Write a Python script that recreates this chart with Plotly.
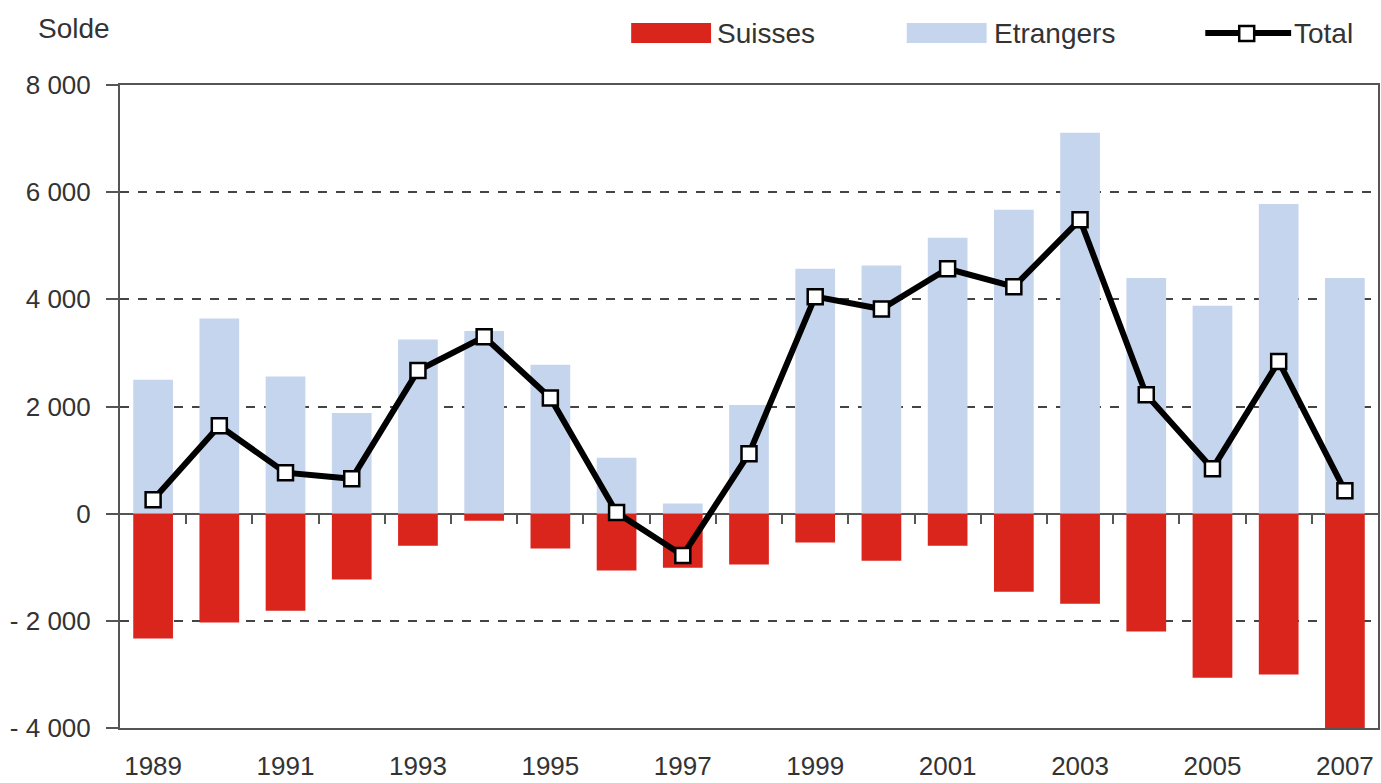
import plotly.graph_objects as go

years = list(range(1989, 2008))
suisses = [-2330, -2030, -1810, -1230, -600, -130, -650, -1060, -1010, -950,
           -540, -880, -600, -1455, -1680, -2200, -3060, -3000, -4150]
etrangers = [2500, 3640, 2560, 1880, 3250, 3410, 2780, 1045, 190, 2030,
             4570, 4630, 5150, 5670, 7110, 4400, 3880, 5780, 4400]
total = [260, 1640, 765, 650, 2670, 3300, 2160, 20, -780, 1120,
         4050, 3820, 4570, 4235, 5485, 2220, 840, 2840, 430]

ytick_vals = [-4000, -2000, 0, 2000, 4000, 6000, 8000]
ytick_text = ["- 4 000", "- 2 000", "0", "2 000", "4 000", "6 000", "8 000"]
xlabel_years = [1989, 1991, 1993, 1995, 1997, 1999, 2001, 2003, 2005, 2007]

RED = "#DA251D"
BLUE = "#C6D5EE"
TXT = "#333333"
FONT = "Liberation Sans"
TICK_SIZE = 26
LEG_SIZE = 28

W, H = 1381, 783
L, R, T, B = 120, 1, 85, 55


def px(x):
    return (x - L) / (W - L - R)


def py(y):
    return (H - B - y) / (H - T - B)


fig = go.Figure()
fig.add_trace(go.Bar(x=years, y=etrangers, marker=dict(color=BLUE, line=dict(width=0)),
                     width=0.6, name="Etrangers", showlegend=False))
fig.add_trace(go.Bar(x=years, y=suisses, marker=dict(color=RED, line=dict(width=0)),
                     width=0.6, name="Suisses", showlegend=False))
fig.add_trace(go.Scatter(x=years, y=total, mode="lines+markers", name="Total",
                         xaxis="x2", showlegend=False,
                         line=dict(color="black", width=6),
                         marker=dict(symbol="square", size=15, color="white",
                                     line=dict(color="black", width=2.5))))

fig.update_layout(
    width=W, height=H,
    margin=dict(l=L, r=R, t=T, b=B),
    paper_bgcolor="white", plot_bgcolor="white",
    barmode="overlay",
    font=dict(family=FONT, size=TICK_SIZE, color=TXT),
    xaxis=dict(range=[1988.5, 2007.5], anchor="free", position=4000 / 12000,
               tickvals=[y + 0.5 for y in years[:-1]], ticks="outside", ticklen=9,
               tickwidth=2, tickcolor="#555555", showticklabels=False,
               showgrid=False, zeroline=False, showline=False),
    xaxis2=dict(overlaying="x", matches="x", anchor="y", side="bottom",
                tickvals=xlabel_years, ticktext=[str(y) for y in xlabel_years],
                ticks="", showgrid=False, zeroline=False,
                showline=True, linecolor="#555555", linewidth=2, mirror=True,
                ticklabelstandoff=14, tickfont=dict(size=TICK_SIZE, color=TXT)),
    yaxis=dict(range=[-4000, 8000], tickvals=ytick_vals, ticktext=ytick_text,
               ticks="outside", ticklen=12, tickwidth=2, tickcolor="#555555",
               showline=True, linecolor="#555555", linewidth=2, mirror=True,
               showgrid=True, gridcolor="#444444", griddash="dash", gridwidth=1.5,
               zeroline=True, zerolinecolor="#555555", zerolinewidth=2,
               ticklabelstandoff=10, tickfont=dict(size=TICK_SIZE, color=TXT)),
)

shapes = []
annotations = []
# Title
annotations.append(dict(text="Solde", x=px(36), y=py(28), xref="paper", yref="paper",
                        xanchor="left", yanchor="middle", showarrow=False,
                        font=dict(size=LEG_SIZE, color=TXT, family=FONT)))
# Legend: Suisses
shapes.append(dict(type="rect", xref="paper", yref="paper", x0=px(632), x1=px(712),
                   y0=py(43), y1=py(23), fillcolor=RED, line=dict(width=0)))
annotations.append(dict(text="Suisses", x=px(716), y=py(33), xref="paper", yref="paper",
                        xanchor="left", yanchor="middle", showarrow=False,
                        font=dict(size=LEG_SIZE, color=TXT, family=FONT)))
# Legend: Etrangers
shapes.append(dict(type="rect", xref="paper", yref="paper", x0=px(908), x1=px(988),
                   y0=py(43), y1=py(23), fillcolor=BLUE, line=dict(width=0)))
annotations.append(dict(text="Etrangers", x=px(993), y=py(33), xref="paper", yref="paper",
                        xanchor="left", yanchor="middle", showarrow=False,
                        font=dict(size=LEG_SIZE, color=TXT, family=FONT)))
# Legend: Total
shapes.append(dict(type="line", xref="paper", yref="paper", x0=px(1207), x1=px(1293),
                   y0=py(33), y1=py(33), line=dict(color="black", width=6)))
shapes.append(dict(type="rect", xref="paper", yref="paper", x0=px(1241), x1=px(1256),
                   y0=py(41), y1=py(26), fillcolor="white",
                   line=dict(color="black", width=2.5)))
annotations.append(dict(text="Total", x=px(1294), y=py(33), xref="paper", yref="paper",
                        xanchor="left", yanchor="middle", showarrow=False,
                        font=dict(size=LEG_SIZE, color=TXT, family=FONT)))

fig.update_layout(shapes=shapes, annotations=annotations)
fig.write_html("out.html", config={"displayModeBar": False},
               post_script="document.body.style.margin='0';")
